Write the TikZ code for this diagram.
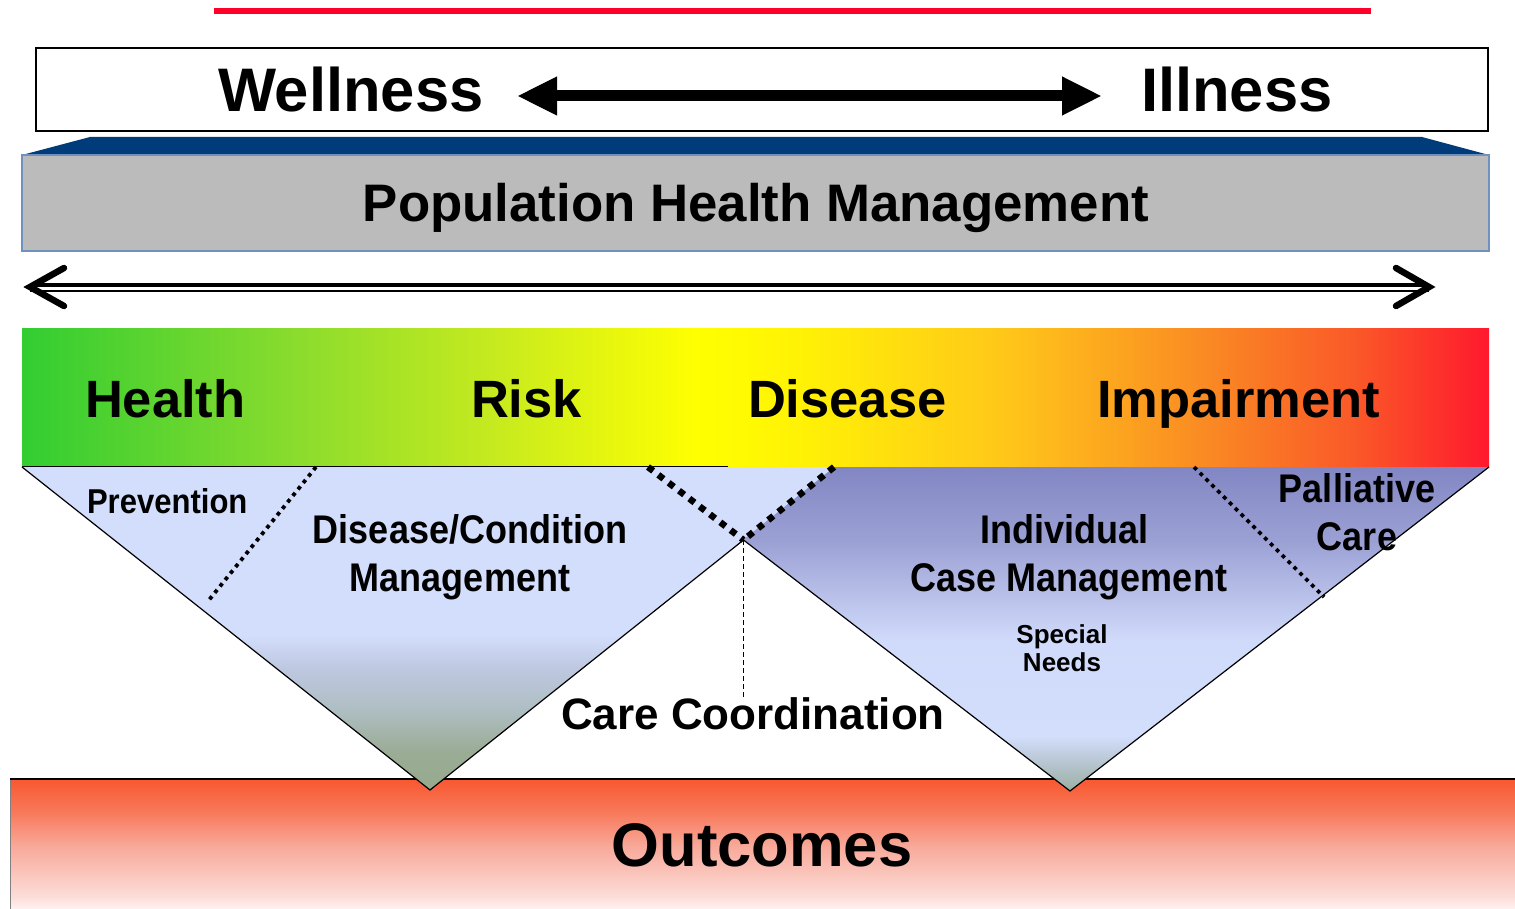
\documentclass[tikz,border=0pt]{standalone}
\usepackage{fontspec}
\setmainfont{Liberation Sans}
\newfontfamily\narrowf[FakeStretch=0.9]{Liberation Sans}
\usetikzlibrary{arrows.meta}
\definecolor{redline}{RGB}{255,0,40}
\definecolor{bandblue}{RGB}{0,60,122}
\definecolor{boxgray}{RGB}{187,187,187}
\definecolor{boxedge}{RGB}{110,145,190}
\definecolor{s0}{RGB}{50,205,50}
\definecolor{s1}{RGB}{140,220,45}
\definecolor{s2}{RGB}{200,235,30}
\definecolor{s3}{RGB}{255,255,0}
\definecolor{s4}{RGB}{255,242,5}
\definecolor{s5}{RGB}{255,200,25}
\definecolor{s6}{RGB}{250,140,35}
\definecolor{s7}{RGB}{250,90,40}
\definecolor{s8}{RGB}{255,25,45}
\definecolor{lt0}{RGB}{211,222,252}
\definecolor{lt1}{RGB}{190,200,225}
\definecolor{lt2}{RGB}{175,190,195}
\definecolor{lt3}{RGB}{155,172,150}
\definecolor{lt4}{RGB}{150,170,140}
\definecolor{rt0}{RGB}{130,135,196}
\definecolor{rt1}{RGB}{155,160,212}
\definecolor{rt2}{RGB}{208,218,250}
\definecolor{rt3}{RGB}{211,222,252}
\definecolor{rt4}{RGB}{180,195,205}
\definecolor{rt5}{RGB}{155,175,160}
\definecolor{oc0}{RGB}{248,88,48}
\definecolor{oc1}{RGB}{248,120,90}
\definecolor{oc2}{RGB}{248,170,155}
\definecolor{oc3}{RGB}{252,220,215}
\definecolor{oc4}{RGB}{255,252,252}
\pgfdeclarehorizontalshading{specbar}{100bp}{color(0bp)=(s0); color(25bp)=(s0); color(34.5bp)=(s1); color(41.3bp)=(s2); color(48bp)=(s3); color(51.5bp)=(s4); color(58.3bp)=(s5); color(65.1bp)=(s6); color(70.3bp)=(s7); color(75bp)=(s8); color(100bp)=(s8)}
\pgfdeclareverticalshading{lefttri}{100bp}{color(0bp)=(lt4); color(25bp)=(lt4); color(31bp)=(lt3); color(37.5bp)=(lt2); color(44bp)=(lt1); color(49bp)=(lt0); color(75bp)=(lt0); color(100bp)=(lt0)}
\pgfdeclareverticalshading{righttri}{100bp}{color(0bp)=(rt5); color(25bp)=(rt5); color(29bp)=(rt4); color(33.5bp)=(rt3); color(48.3bp)=(rt2); color(63.7bp)=(rt1); color(75bp)=(rt0); color(100bp)=(rt0)}
\pgfdeclareverticalshading{outc}{100bp}{color(0bp)=(oc4); color(25bp)=(oc4); color(32bp)=(oc3); color(50bp)=(oc2); color(63bp)=(oc1); color(75bp)=(oc0); color(100bp)=(oc0)}
\begin{document}
\begin{tikzpicture}[x=1pt,y=-1pt,
  txt/.style={inner sep=0pt, outer sep=0pt},
  hugetxt/.style={txt, font=\fontsize{61.5}{60}\selectfont\bfseries},
  bartxt/.style={txt, font=\fontsize{52.5}{52}\selectfont\bfseries},
  phmtxt/.style={txt, font=\fontsize{52.8}{52}\selectfont\bfseries},
  nartxt/.style={txt, font=\narrowf\fontsize{40}{40}\selectfont\bfseries},
  prevtxt/.style={txt, font=\narrowf\fontsize{34.5}{35}\selectfont\bfseries},
  smalltxt/.style={txt, font=\fontsize{26}{25}\selectfont\bfseries},
  cctxt/.style={txt, font=\fontsize{44}{44}\selectfont\bfseries},
  outtxt/.style={txt, font=\fontsize{61.5}{61}\selectfont\bfseries},
  thickdots/.style={line width=6.5pt, dash pattern=on 6.5pt off 6.5pt},
  thindots/.style={line width=3.8pt, dash pattern=on 3.8pt off 4.5pt},
  edge/.style={line width=1.2pt, black},
  chev/.style={line width=6.5pt, line cap=round, line join=miter}]
\useasboundingbox (0,0) rectangle (1515,909);
\fill[white] (0,0) rectangle (1515,909);
% red line
\coordinate (r1) at (214,11);
\coordinate (r2) at (1371,11);
\draw[redline, line width=6pt] (r1) -- (r2);
% wellness box
\draw[line width=1.2pt] (36,48) rectangle (1488,131);
\node[hugetxt, anchor=base west] (well) at (218,112) {Wellness};
\node[hugetxt, anchor=base west] (ill) at (1141,112) {Illness};
\coordinate (wa) at (517,96);
\coordinate (ia) at (1102,96);
\draw[line width=11pt, {Triangle[length=40pt,width=36pt]}-{Triangle[length=40pt,width=36pt]}] (wa) -- (ia);
% population health management
\fill[bandblue] (22,155) -- (90,137) -- (1422,137) -- (1489,155) -- cycle;
\draw[fill=boxgray, draw=boxedge, line width=1.5pt] (22,155) rectangle (1489,251);
\node[phmtxt, anchor=base] (phm) at (756,222) {Population Health Management};
% double arrow
\coordinate (la) at (30,287);
\coordinate (ra) at (1429,287);
\draw[line width=4.5pt] (la |- 0,285) -- (ra |- 0,285);
\draw[line width=2pt] (la |- 0,291) -- (ra |- 0,291);
\draw[chev] (64,268) -- (la) -- (64,306);
\draw[chev] (1396,268) -- (ra) -- (1396,306);
% spectrum bar
\shade[shading=specbar] (22,328) rectangle (1489,467);
\draw[line width=1pt, gray] (728,467) -- (1489,467);
\draw[line width=1.5pt] (22,467) -- (728,467);
\node[bartxt, anchor=base west] (health) at (85,417) {Health};
\node[bartxt, anchor=base west] (risk) at (471,417) {Risk};
\node[bartxt, anchor=base west] (disease) at (748,417) {Disease};
\node[bartxt, anchor=base west] (impair) at (1097,417) {Impairment};
% outcomes
\shade[shading=outc] (10,779) rectangle (1525,915);
\draw[line width=1pt, gray] (10,779) -- (10,915);
\draw[line width=1.5pt] (10,779) -- (1525,779);
\node[outtxt, anchor=base] (out) at (762,866) {Outcomes};
% triangles
\coordinate (LT1) at (22,467);
\coordinate (LT2) at (834,467);
\coordinate (LA) at (430,790);
\coordinate (RT1) at (648,467);
\coordinate (RT2) at (1489,467);
\coordinate (RA) at (1070,791);
\coordinate (J) at (743.5,540);
\shade[shading=righttri] (RT1) -- (RT2) -- (RA) -- cycle;
\shade[shading=lefttri] (LT1) -- (LT2) -- (LA) -- cycle;
\draw[edge] (LT1) -- (LA) -- (J) -- (RA) -- (RT2);
\draw[thickdots] (RT1) -- (J);
\draw[thickdots] (LT2) -- (J);
\coordinate (pv1) at (316,467);
\coordinate (pv2) at (209,600);
\draw[thindots] (pv1) -- (pv2);
\coordinate (pc1) at (1194,467);
\coordinate (pc2) at (1324,597);
\draw[thindots] (pc1) -- (pc2);
% care coordination
\node[cctxt, anchor=base west] (cc) at (561,729) {Care Coordination};
\draw[line width=1pt, dash pattern=on 5pt off 3pt] (J) -- (cc.north -| J);
% labels in triangles
\node[prevtxt, anchor=base west] (prev) at (87,513) {Prevention};
\node[nartxt, anchor=base] (dcm1) at (470,543) {Disease/Condition};
\node[nartxt, anchor=base] (dcm2) at (460,591) {Management};
\node[nartxt, anchor=base] (icm1) at (1064,543) {Individual};
\node[nartxt, anchor=base] (icm2) at (1069,591) {Case Management};
\node[nartxt, anchor=base] (pal1) at (1357,502) {Palliative};
\node[nartxt, anchor=base] (pal2) at (1357,550) {Care};
\node[smalltxt, anchor=base] (sn1) at (1062,643) {Special};
\node[smalltxt, anchor=base] (sn2) at (1062,671) {Needs};
\end{tikzpicture}
\end{document}
